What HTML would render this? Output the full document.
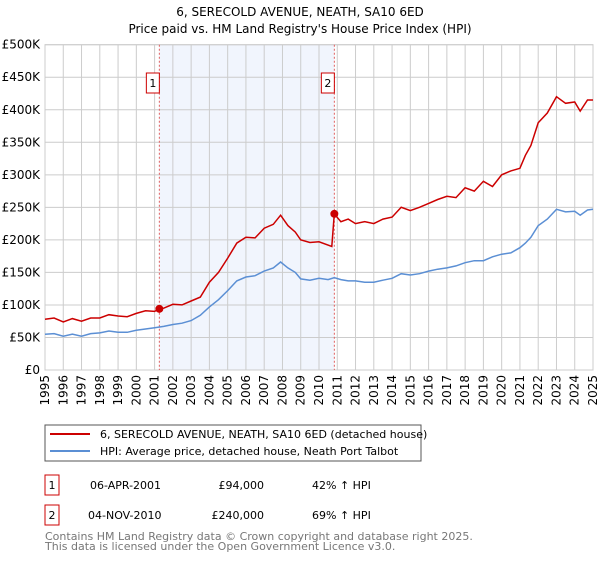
<!DOCTYPE html>
<html><head><meta charset="utf-8"><style>
body{margin:0;background:#fff;font-family:"Liberation Sans","DejaVu Sans",sans-serif}
svg text{font-family:"DejaVu Sans","Liberation Sans",sans-serif}
</style></head><body>
<svg width="600" height="560" xmlns="http://www.w3.org/2000/svg">
<text x="300" y="16" text-anchor="middle" font-size="12">6, SERECOLD AVENUE, NEATH, SA10 6ED</text>
<text x="300" y="33" text-anchor="middle" font-size="12">Price paid vs. HM Land Registry's House Price Index (HPI)</text>
<g id="plot"></g>
<g>
<rect x="45" y="425" width="376" height="36" fill="#fff" stroke="#555"/>
<line x1="50" y1="434" x2="90" y2="434" stroke="#cc0000" stroke-width="2"/>
<text x="100" y="438" font-size="11">6, SERECOLD AVENUE, NEATH, SA10 6ED (detached house)</text>
<line x1="50" y1="451" x2="90" y2="451" stroke="#5b8fd4" stroke-width="2"/>
<text x="100" y="455" font-size="11">HPI: Average price, detached house, Neath Port Talbot</text>
</g>
<g font-size="11">
<rect x="45" y="475" width="14" height="20" fill="#fff" stroke="#cc0000"/>
<text x="52" y="489" text-anchor="middle">1</text>
<text x="90" y="489">06-APR-2001</text>
<text x="264" y="489" text-anchor="end">£94,000</text>
<text x="312" y="489">42% ↑ HPI</text>
<rect x="45" y="505" width="14" height="20" fill="#fff" stroke="#cc0000"/>
<text x="52" y="519" text-anchor="middle">2</text>
<text x="88" y="519">04-NOV-2010</text>
<text x="264" y="519" text-anchor="end">£240,000</text>
<text x="312" y="519">69% ↑ HPI</text>
</g>
<text x="45" y="540" font-size="11" fill="#777">Contains HM Land Registry data © Crown copyright and database right 2025.</text>
<text x="45" y="550" font-size="11" fill="#777">This data is licensed under the Open Government Licence v3.0.</text>
</svg>
<script>
const yTicks=[0,50000,100000,150000,200000,250000,300000,350000,400000,450000,500000];
const yTickLabels=["£0","£50K","£100K","£150K","£200K","£250K","£300K","£350K","£400K","£450K","£500K"];
const xYears=[1995,1996,1997,1998,1999,2000,2001,2002,2003,2004,2005,2006,2007,2008,2009,2010,2011,2012,2013,2014,2015,2016,2017,2018,2019,2020,2021,2022,2023,2024,2025];
const saleDates=[2001.26,2010.84];
const salePrices=[94000,240000];
const saleLabels=["1","2"];
const redT=[1995,1995.5,1996,1996.5,1997,1997.5,1998,1998.5,1999,1999.5,2000,2000.5,2001,2001.26,2001.5,2002,2002.5,2003,2003.5,2004,2004.5,2005,2005.5,2006,2006.5,2007,2007.5,2007.9,2008.3,2008.7,2009,2009.5,2010,2010.7,2010.84,2011.2,2011.6,2012,2012.5,2013,2013.5,2014,2014.5,2015,2015.5,2016,2016.5,2017,2017.5,2018,2018.5,2019,2019.5,2020,2020.5,2021,2021.3,2021.6,2022,2022.5,2023,2023.5,2024,2024.3,2024.7,2025];
const redV=[78,80,74,79,75,80,80,85,83,82,87,91,90,94,95,101,100,106,112,135,150,172,195,204,203,218,224,238,222,212,200,196,197,190,240,228,232,225,228,225,232,235,250,245,250,256,262,267,265,280,275,290,282,300,306,310,330,345,380,395,420,410,412,398,415,415];
const blueT=[1995,1995.5,1996,1996.5,1997,1997.5,1998,1998.5,1999,1999.5,2000,2000.5,2001,2001.5,2002,2002.5,2003,2003.5,2004,2004.5,2005,2005.5,2006,2006.5,2007,2007.5,2007.9,2008.3,2008.7,2009,2009.5,2010,2010.5,2010.84,2011.2,2011.6,2012,2012.5,2013,2013.5,2014,2014.5,2015,2015.5,2016,2016.5,2017,2017.5,2018,2018.5,2019,2019.5,2020,2020.5,2021,2021.3,2021.6,2022,2022.5,2023,2023.5,2024,2024.3,2024.7,2025];
const blueV=[55,56,52,55,52,56,57,60,58,58,61,63,65,67,70,72,76,84,97,108,122,137,143,145,152,157,166,157,150,140,138,141,139,142,139,137,137,135,135,138,141,148,146,148,152,155,157,160,165,168,168,174,178,180,188,195,204,222,232,247,243,244,238,246,247];
const X0=45,X1=593,Y0=370,YT=44.7;
const xs=t=>X0+(t-1995)/30*(X1-X0);
const ys=v=>Y0-v/500000*(Y0-YT);
const NS="http://www.w3.org/2000/svg";
const g=document.getElementById('plot');
function mk(tag,at){const e=document.createElementNS(NS,tag);for(const k in at)e.setAttribute(k,at[k]);g.appendChild(e);return e;}
let e=mk('rect',{x:xs(saleDates[0]),y:YT,width:xs(saleDates[1])-xs(saleDates[0]),height:Y0-YT,fill:'#eef3fc',opacity:0.8});


yTicks.forEach((v,i)=>{
 let l=mk('line',{x1:X0,x2:X1,y1:ys(v),y2:ys(v),stroke:'#ccc'});
 
 
 let t=mk('text',{x:40,y:ys(v)+4,'text-anchor':'end','font-size':12});
 t.textContent=yTickLabels[i];
 
 
});
xYears.forEach(yr=>{
 let l=mk('line',{x1:xs(yr),x2:xs(yr),y1:YT,y2:Y0,stroke:'#ccc'});
 
 
 let t=mk('text',{x:0,y:0,'text-anchor':'end','font-size':12,transform:`translate(${xs(yr)+4},375) rotate(-90)`});
 t.textContent=yr;
 
 
});
e=mk('rect',{x:X0,y:YT,width:X1-X0,height:Y0-YT,fill:'none',stroke:'#ccc'});


saleDates.forEach((d,i)=>{
 let l=mk('line',{x1:xs(d),x2:xs(d),y1:YT,y2:Y0,stroke:'#e06060','stroke-dasharray':'2,2'});
 
 
 let r=mk('rect',{x:xs(d)-13,y:73,width:13,height:20,fill:'#fff',stroke:'#cc0000'});
 
 
 let t=mk('text',{x:xs(d)-6.5,y:87,'text-anchor':'middle','font-size':11});
 t.textContent=saleLabels[i];
 
 
});
function path(T,V){return T.map((t,i)=>(i?'L':'M')+xs(t).toFixed(1)+','+ys(V[i]*1000).toFixed(1)).join('');}
e=mk('path',{d:path(blueT,blueV),fill:'none',stroke:'#5b8fd4','stroke-width':1.5});


e=mk('path',{d:path(redT,redV),fill:'none',stroke:'#cc0000','stroke-width':1.5});


saleDates.forEach((d,i)=>{
 let c=mk('circle',{cx:xs(d),cy:ys(salePrices[i]),r:4,fill:'#cc0000'});
 
 
});
</script>
</body></html>
